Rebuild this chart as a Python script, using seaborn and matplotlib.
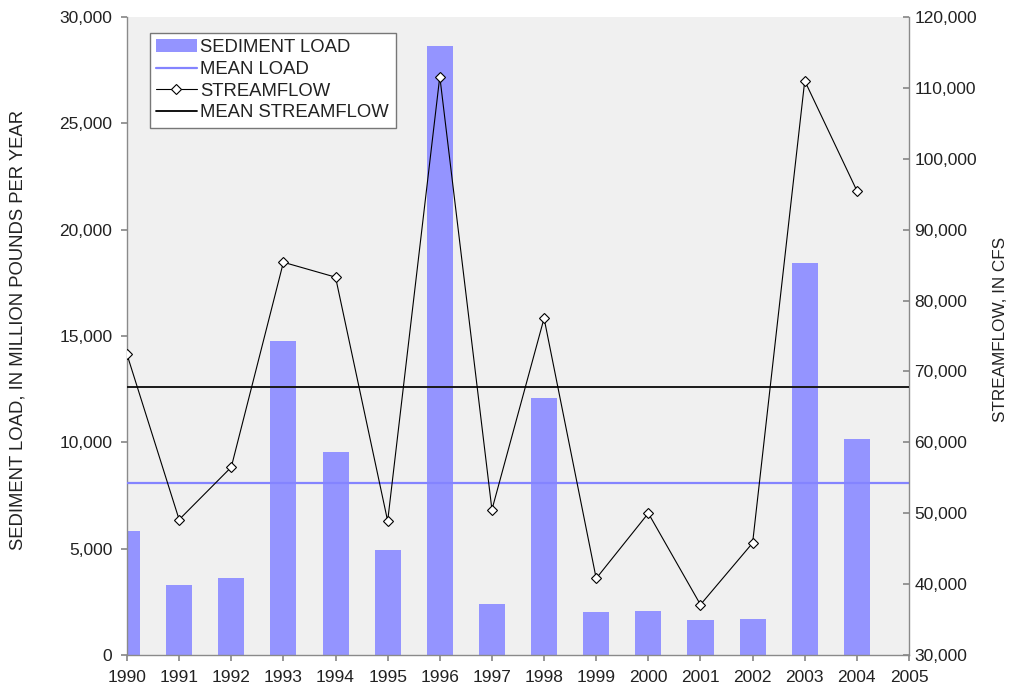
import numpy as np
import pandas as pd
import matplotlib
matplotlib.use('Agg')
import matplotlib.pyplot as plt
import seaborn as sns
from matplotlib.patches import Patch
from matplotlib.lines import Line2D
from matplotlib.ticker import FuncFormatter

# data
years = [1990, 1991, 1992, 1993, 1994, 1995, 1996, 1997, 1998, 1999, 2000, 2001, 2002, 2003, 2004]
sediment_load = [5850, 3290, 3600, 14770, 9560, 4940, 28650, 2380, 12100, 2020, 2060, 1660, 1690, 18450, 10170]
streamflow = [72400, 49100, 56500, 85400, 83300, 48900, 111600, 50500, 77500, 40800, 50000, 37100, 45800, 111000, 95500]
mean_load = 8100
mean_streamflow = 67800
year_ticks = list(range(1990, 2006))

sns.set_theme(style='white')
plt.rcParams['font.family'] = ['Liberation Sans', 'DejaVu Sans']
plt.rcParams['font.size'] = 12

bar_color = '#9494ff'
mean_load_color = '#8484ff'
spine_color = '#8a8a8a'
text_color = '#222222'

df = pd.DataFrame({'year': years, 'load': sediment_load, 'flow': streamflow})

fig = plt.figure(figsize=(10.1, 6.87), dpi=100)
ax = fig.add_axes([127 / 1010, 1 - 655 / 687, 782 / 1010, 638 / 687])
ax.set_facecolor('#f0f0f0')

# sediment bars + mean load on the left axis
sns.barplot(data=df, x='year', y='load', native_scale=True, width=0.5,
            color=bar_color, saturation=1, edgecolor='none', ax=ax, zorder=2)
ax.axhline(mean_load, color=mean_load_color, lw=1.6, zorder=3)

ax.set_xlim(1990, 2005)
ax.set_ylim(0, 30000)
ax.set_xticks(year_ticks)
ax.set_xticklabels([str(y) for y in year_ticks])
ax.set_yticks(np.arange(0, 30001, 5000))
fmt = FuncFormatter(lambda v, p: f'{int(v):,}')
ax.yaxis.set_major_formatter(fmt)
ax.set_xlabel('')
ax.set_ylabel('SEDIMENT LOAD, IN MILLION POUNDS PER YEAR', fontsize=13.3, color=text_color)
ax.yaxis.set_label_coords(-0.128, 0.51)

# streamflow on the right axis
ax2 = ax.twinx()
ax2.patch.set_visible(False)
sns.lineplot(data=df, x='year', y='flow', ax=ax2, color='black', lw=0.8,
             marker='D', markersize=5, markerfacecolor='white',
             markeredgecolor='black', markeredgewidth=0.8, zorder=4)
ax2.axhline(mean_streamflow, color='#1a1a1a', lw=1.4, zorder=3)
ax2.set_ylim(30000, 120000)
ax2.set_yticks(np.arange(30000, 120001, 10000))
ax2.yaxis.set_major_formatter(fmt)
ax2.set_xlim(1990, 2005)
ax2.set_ylabel('STREAMFLOW, IN CFS', fontsize=12.3, color=text_color)
ax2.yaxis.set_label_coords(1.108, 0.51)

for a in (ax, ax2):
    for side in ('left', 'right', 'bottom'):
        a.spines[side].set_color(spine_color)
        a.spines[side].set_linewidth(1.0)
    a.spines['top'].set_visible(False)
ax.spines['right'].set_visible(False)
ax2.spines['left'].set_visible(False)
ax2.spines['bottom'].set_visible(False)

ax.tick_params(axis='x', direction='out', length=4.5, color=spine_color, labelsize=12.5,
               labelcolor=text_color, pad=6, bottom=True)
ax.tick_params(axis='y', direction='out', length=4.5, color=spine_color, labelsize=12.5,
               labelcolor=text_color, pad=6, left=True)
ax2.tick_params(axis='y', direction='in', length=4.5, color=spine_color, labelsize=12.5,
                labelcolor=text_color, pad=4, right=True)

handles = [
    Patch(facecolor=bar_color, edgecolor='none'),
    Line2D([], [], color=mean_load_color, lw=1.6),
    Line2D([], [], color='black', lw=0.8, marker='D', markersize=5,
           markerfacecolor='white', markeredgecolor='black', markeredgewidth=0.8),
    Line2D([], [], color='black', lw=1.3),
]
labels = ['SEDIMENT LOAD', 'MEAN LOAD', 'STREAMFLOW', 'MEAN STREAMFLOW']
leg = ax2.legend(handles, labels, loc='upper left', bbox_to_anchor=(0.029, 0.975),
                 borderaxespad=0, frameon=True, fancybox=False, fontsize=13.3,
                 handlelength=2.2, handletextpad=0.2, labelspacing=0.25,
                 borderpad=0.35, framealpha=1)
leg.get_frame().set_edgecolor('#777777')
leg.get_frame().set_linewidth(1.0)
for t in leg.get_texts():
    t.set_color(text_color)

fig.savefig('out.png', dpi=100, facecolor='white')
